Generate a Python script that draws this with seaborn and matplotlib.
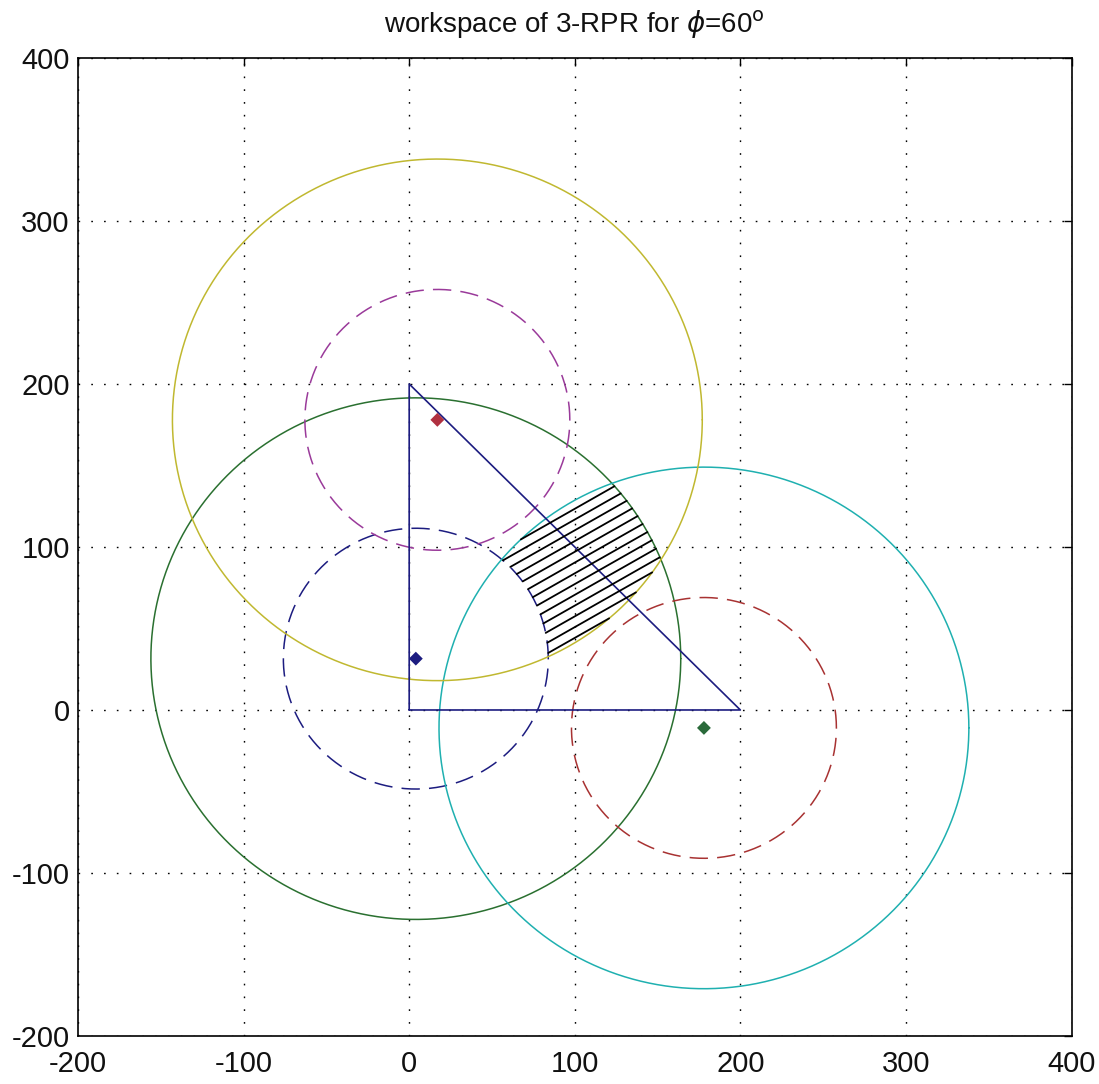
import numpy as np
import pandas as pd
import matplotlib
matplotlib.use("Agg")
import matplotlib.pyplot as plt
import seaborn as sns

# --- data: circle centres (one per leg), radii, platform markers ---
centre_x = [4, 178, 17]
centre_y = [31.5, -11, 178]
r_min = 80
r_max = 160
inner_colors = ["#1c1c80", "#a83232", "#9a3a9a"]
outer_colors = ["#2a7030", "#1fb0b0", "#c0b830"]
marker_colors = ["#1c1c80", "#2a6a3a", "#b03040"]

# base triangle
tri_x = [0, 200, 0, 0]
tri_y = [0, 0, 200, 0]

# hatch of the workspace (angle in degrees, offsets along y)
hatch_angle = 30
hatch_offsets = np.arange(-13.5, 76, 6.6)

sns.set_style("white")
plt.rcParams['font.family'] = ['Liberation Sans', 'DejaVu Sans']
plt.rcParams['mathtext.fontset'] = 'dejavusans'
plt.rcParams['axes.unicode_minus'] = False

fig = plt.figure(figsize=(10.99, 10.84), dpi=100)
ax = fig.add_axes([0.071, 0.0443, 0.904, 0.9022])

t = np.linspace(0, 2 * np.pi, 400)

# circles
for i in range(3):
    cx, cy = centre_x[i], centre_y[i]
    inner = pd.DataFrame({"x": cx + r_min * np.cos(t), "y": cy + r_min * np.sin(t)})
    outer = pd.DataFrame({"x": cx + r_max * np.cos(t), "y": cy + r_max * np.sin(t)})
    sns.lineplot(data=outer, x="x", y="y", sort=False, estimator=None,
                 color=outer_colors[i], lw=1.1, ax=ax)
    sns.lineplot(data=inner, x="x", y="y", sort=False, estimator=None,
                 color=inner_colors[i], lw=1.1, ax=ax, dashes=False,
                 linestyle=(0, (12, 6)))

# triangle
sns.lineplot(x=tri_x, y=tri_y, sort=False, estimator=None, color="#1c1c80", lw=1.2, ax=ax)

# hatched workspace: inside all outer circles, outside all inner circles
xs = np.linspace(-50, 250, 3000)
slope = np.tan(np.radians(hatch_angle))
for c in hatch_offsets:
    ys = slope * xs + c
    ok = np.ones_like(xs, dtype=bool)
    for cx, cy in zip(centre_x, centre_y):
        d = np.hypot(xs - cx, ys - cy)
        ok &= (d <= r_max) & (d >= r_min)
    if not ok.any():
        continue
    idx = np.flatnonzero(ok)
    splits = np.split(idx, np.flatnonzero(np.diff(idx) > 1) + 1)
    for seg in splits:
        ax.plot(xs[seg], ys[seg], color="black", lw=1.3)

# platform points
sns.scatterplot(x=centre_x, y=centre_y, hue=[0, 1, 2],
                palette=[marker_colors[0], marker_colors[1], marker_colors[2]],
                marker="D", s=50, legend=False, edgecolor="none", ax=ax, zorder=5)

ax.set_xlim(-200, 400)
ax.set_ylim(-200, 400)
ax.set_xticks(range(-200, 401, 100))
ax.set_yticks(range(-200, 401, 100))
ax.set_xlabel("")
ax.set_ylabel("")
ax.grid(True, color="black", linestyle=(0, (1.2, 8)), lw=1.0)
ax.tick_params(direction="in", length=6, width=1, top=True, right=True,
               labelsize=21, labelcolor="#111111", color="black")
ax.tick_params(axis="x", pad=10)
ax.tick_params(axis="y", pad=6)
for s in ax.spines.values():
    s.set_color("black")
    s.set_linewidth(1.2)
ax.set_title(r"workspace of 3-RPR for $\phi$=60$^{\rm o}$", fontsize=20, pad=18,
             color="#111111")

fig.savefig("out.png", dpi=100, facecolor="white")
